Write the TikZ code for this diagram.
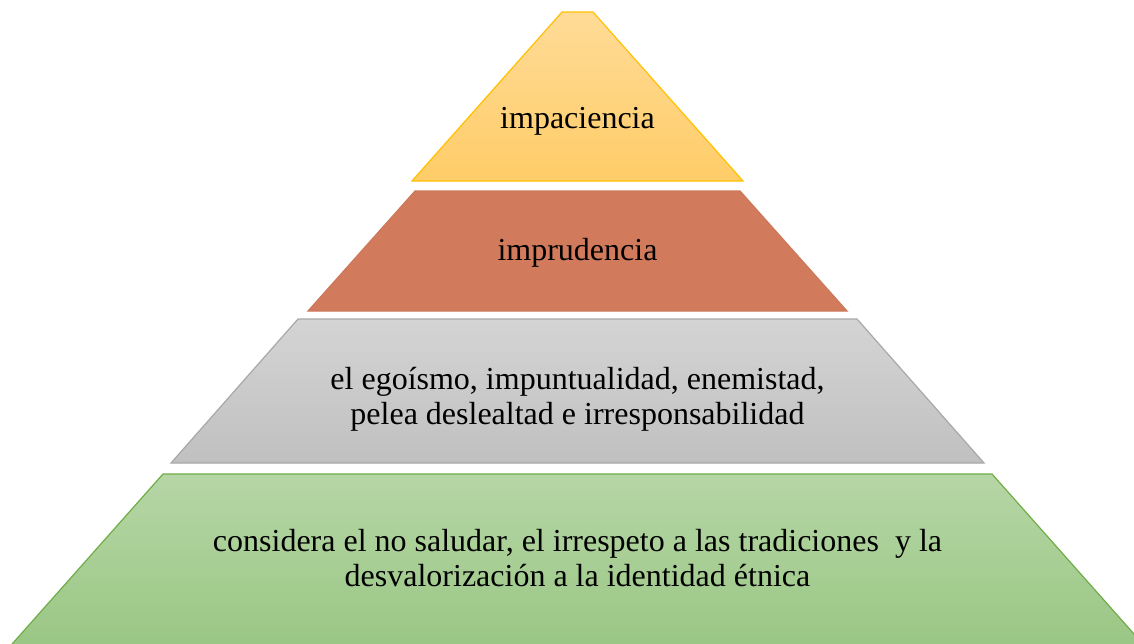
\documentclass[tikz,border=0pt]{standalone}
\usepackage{fontspec}
\setmainfont{Liberation Serif}
\begin{document}
\begin{tikzpicture}[x=0.75pt,y=-0.75pt,
  level/.style={line width=0.9pt, line join=miter},
  lbl/.style={inner sep=0pt, align=center, text=black,
    font=\fontsize{24}{26.25}\selectfont}]
\useasboundingbox (0,0) rectangle (1134,643);
\clip (0,0) rectangle (1134,643);
% level 1 (top)
\draw[level, draw={rgb,255:red,255;green,192;blue,0},
  top color={rgb,255:red,255;green,219;blue,151},
  bottom color={rgb,255:red,255;green,205;blue,104}]
  (562,12) -- (593,12) -- (743,181) -- (412,181) -- cycle;
% level 2
\draw[level, draw={rgb,255:red,205;green,120;blue,90},
  fill={rgb,255:red,209;green,123;blue,92}]
  (415,191) -- (740,191) -- (847,311) -- (308,311) -- cycle;
% level 3
\draw[level, draw={rgb,255:red,168;green,168;blue,168},
  top color={rgb,255:red,212;green,212;blue,212},
  bottom color={rgb,255:red,192;green,192;blue,192}]
  (298,319) -- (857,319) -- (984,463) -- (171,463) -- cycle;
% level 4 (bottom)
\draw[level, draw={rgb,255:red,112;green,173;blue,71},
  top color={rgb,255:red,182;green,214;blue,166},
  bottom color={rgb,255:red,153;green,198;blue,131}]
  (163,474) -- (992,474) -- (1150,652) -- (5,652) -- cycle;
% labels
\node[lbl, anchor=base] (t1) at (577.5,128) {impaciencia};
\node[lbl, anchor=base] (t2) at (577.5,260) {imprudencia};
\node[lbl, anchor=center] (t3) at (577.5,399)
  {el egoísmo, impuntualidad, enemistad,\\pelea deslealtad e irresponsabilidad};
\node[lbl, anchor=center] (t4) at (577.5,558.5)
  {considera el no saludar, el irrespeto a las tradiciones\ \ y la\\desvalorización a la identidad étnica};
\end{tikzpicture}
\end{document}
